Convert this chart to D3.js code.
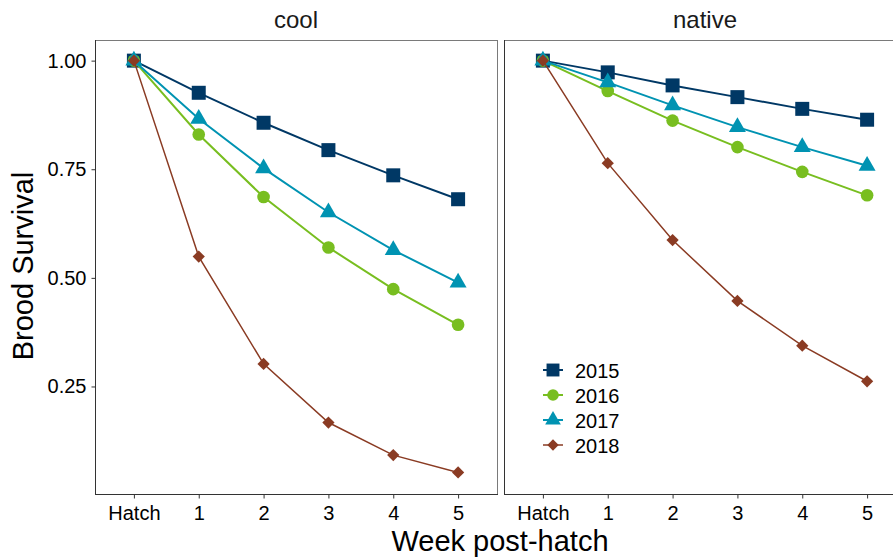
<!DOCTYPE html>
<html><head><meta charset="utf-8">
<script src="https://cdn.jsdelivr.net/npm/d3@7"></script>
<style>body{margin:0;background:#fff}svg{display:block;font-family:"Liberation Sans",Arial,sans-serif}</style>
</head><body><svg id="c" width="893" height="557"></svg>
<script>
const weeks = ["Hatch","1","2","3","4","5"];
const panels = ["cool","native"];
const years = ["2015","2016","2017","2018"];
const colors = ["#003865","#78BE20","#0093B2","#8A3B23"];
const shapes = ["square","circle","triangle","diamond"];
const yTicks = [0.25,0.50,0.75,1.00];
const cool2015 = [1,0.926,0.857,0.794,0.736,0.681];
const cool2016 = [1,0.830,0.686,0.570,0.474,0.392];
const cool2017 = [1,0.866,0.752,0.651,0.564,0.489];
const cool2018 = [1,0.549,0.302,0.167,0.092,0.052];
const native2015 = [1,0.973,0.943,0.916,0.889,0.864];
const native2016 = [1,0.930,0.862,0.801,0.744,0.690];
const native2017 = [1,0.950,0.897,0.847,0.801,0.758];
const native2018 = [1,0.764,0.587,0.447,0.344,0.262];
const data = {cool:[cool2015,cool2016,cool2017,cool2018], native:[native2015,native2016,native2017,native2018]};

const svg = d3.select("#c");
const pTop = 40, pBottom = 494, pw = 402, panelX = [95, 504];
const y = d3.scaleLinear().domain([0.0025,1.0475]).range([pBottom, pTop]);
const symMap = {square:d3.symbolSquare, circle:d3.symbolCircle, triangle:d3.symbolTriangle, diamond:d3.symbolSquare};
const symSize = {square:196, circle:125, triangle:125, diamond:75};
const symRot = {square:0, circle:0, triangle:0, diamond:45};
const lw = [2,2,2,1.5];
const FONT = "Liberation Sans, Arial, sans-serif";

panels.forEach((p,pi)=>{
  const x0 = panelX[pi];
  const x = d3.scalePoint().domain(weeks).range([x0, x0+pw]).padding(0.6);
  const g = svg.append("g");
  g.append("rect").attr("x",x0+0.5).attr("y",pTop+0.5).attr("width",pw).attr("height",pBottom-pTop)
    .attr("fill","none").attr("stroke","#7a7a7a").attr("stroke-width",1);
  g.append("line").attr("x1",x0).attr("x2",x0+pw+1).attr("y1",pBottom+0.5).attr("y2",pBottom+0.5).attr("stroke","#333");
  g.append("line").attr("x1",x0+0.5).attr("x2",x0+0.5).attr("y1",pTop).attr("y2",pBottom+1).attr("stroke","#333");
  const xa = g.append("g").attr("transform",`translate(0,${pBottom+0.5})`)
    .call(d3.axisBottom(x).tickSize(4).tickPadding(7));
  xa.select(".domain").remove();
  xa.selectAll("line").attr("stroke","#333");
  xa.selectAll("text").attr("font-size",20).attr("fill","#000").attr("font-family",FONT);
  if(pi===0){
    const ya = g.append("g").attr("transform",`translate(${x0+0.5},0)`)
      .call(d3.axisLeft(y).tickValues(yTicks).tickFormat(d3.format(".2f")).tickSize(4).tickPadding(5));
    ya.select(".domain").remove();
    ya.selectAll("line").attr("stroke","#333");
    ya.selectAll("text").attr("font-size",20).attr("fill","#000").attr("font-family",FONT);
  }
  g.append("text").attr("x",x0+pw/2).attr("y",28).attr("text-anchor","middle")
    .attr("font-size",24).attr("fill","#1a1a1a").text(p);
  const pg = g.append("g");
  years.forEach((yr,si)=>{
    const vals = data[p][si];
    pg.append("path").datum(vals)
      .attr("d", d3.line().x((d,i)=>x(weeks[i])).y(d=>y(d)))
      .attr("fill","none").attr("stroke",colors[si]).attr("stroke-width",lw[si]);
    pg.selectAll(null).data(vals).enter().append("path")
      .attr("transform",(d,i)=>`translate(${x(weeks[i])},${y(d)}) rotate(${symRot[shapes[si]]})`)
      .attr("d", d3.symbol().type(symMap[shapes[si]]).size(symSize[shapes[si]]))
      .attr("fill",colors[si]);
  });
});

svg.append("text").attr("x",500).attr("y",551).attr("text-anchor","middle").attr("font-size",29).attr("fill","#000").text("Week post-hatch");
svg.append("text").attr("transform","translate(33,266) rotate(-90)").attr("text-anchor","middle").attr("font-size",29).attr("fill","#000").text("Brood Survival");

const lg = svg.append("g");
years.forEach((yr,si)=>{
  const cy = 370 + si*25;
  lg.append("line").attr("x1",543).attr("x2",563).attr("y1",cy).attr("y2",cy).attr("stroke",colors[si]).attr("stroke-width",lw[si]);
  lg.append("path").attr("transform",`translate(553,${cy}) rotate(${symRot[shapes[si]]})`)
    .attr("d", d3.symbol().type(symMap[shapes[si]]).size(symSize[shapes[si]]*0.85)).attr("fill",colors[si]);
  lg.append("text").attr("x",575).attr("y",cy+8).attr("font-size",20).attr("fill","#000").attr("font-family",FONT).text(yr);
});
</script></body></html>
